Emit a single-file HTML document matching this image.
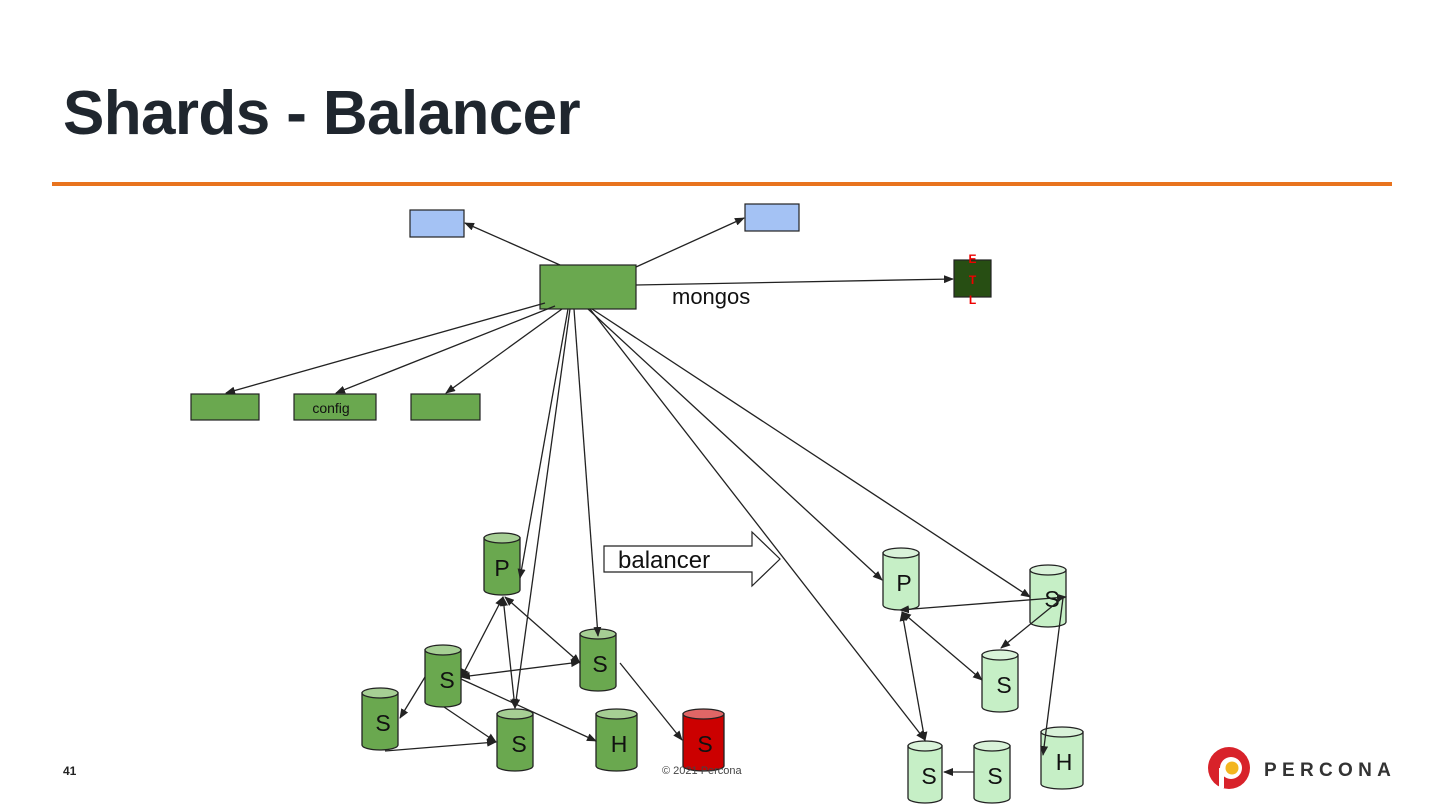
<!DOCTYPE html>
<html><head><meta charset="utf-8"><style>
body{margin:0;width:1440px;height:810px;background:#fff;overflow:hidden;font-family:"Liberation Sans",sans-serif}
</style></head><body>
<svg width="1440" height="810" xmlns="http://www.w3.org/2000/svg" style="position:absolute;left:0;top:0">
<defs>
<marker id="a" markerWidth="10" markerHeight="8" refX="9" refY="4" orient="auto-start-reverse" markerUnits="userSpaceOnUse"><path d="M0,0 L10,4 L0,8 Z" fill="#222"/></marker>
</defs>
<text x="63" y="134" font-size="62" font-weight="bold" fill="#1f262e" font-family="Liberation Sans,sans-serif" letter-spacing="-0.6">Shards - Balancer</text>
<rect x="52" y="182" width="1340" height="4" fill="#e8731e"/>

<rect x="410" y="210" width="54" height="27" fill="#a4c2f4" stroke="#222" stroke-width="1.2"/>
<rect x="745" y="204" width="54" height="27" fill="#a4c2f4" stroke="#222" stroke-width="1.2"/>
<rect x="540" y="265" width="96" height="44" fill="#6aa84f" stroke="#222" stroke-width="1.2"/>
<text x="672" y="304" font-size="22" fill="#111">mongos</text>
<rect x="954" y="260" width="37" height="37" fill="#274e13" stroke="#222" stroke-width="1.2"/>
<text x="972.5" y="263" font-size="12" font-weight="bold" fill="#e00" text-anchor="middle">E</text>
<text x="972.5" y="284" font-size="12" font-weight="bold" fill="#e00" text-anchor="middle">T</text>
<text x="972.5" y="304" font-size="12" font-weight="bold" fill="#e00" text-anchor="middle">L</text>
<rect x="191" y="394" width="68" height="26" fill="#6aa84f" stroke="#222" stroke-width="1.2"/>
<rect x="294" y="394" width="82" height="26" fill="#6aa84f" stroke="#222" stroke-width="1.2"/>
<text x="331" y="413" font-size="14" fill="#111" text-anchor="middle">config</text>
<rect x="411" y="394" width="69" height="26" fill="#6aa84f" stroke="#222" stroke-width="1.2"/>

<polygon points="604,546 752,546 752,532 780,559 752,586 752,572 604,572" fill="#fff" stroke="#222" stroke-width="1.2"/>
<text x="618" y="568" font-size="24" fill="#111">balancer</text>

<g stroke="#222" stroke-width="1.3" font-size="23" text-anchor="middle">
<g fill="#6aa84f"><path d="M484 538 v52 a18 5 0 0 0 36 0 v-52 z"/><ellipse cx="502" cy="538" rx="18" ry="5" fill="#a6cf94"/></g>
<text x="502" y="576" stroke="none" fill="#111">P</text>
<g fill="#6aa84f"><path d="M580 634 v52 a18 5 0 0 0 36 0 v-52 z"/><ellipse cx="598" cy="634" rx="18" ry="5" fill="#a6cf94"/></g>
<text x="600" y="672" stroke="none" fill="#111">S</text>
<g fill="#6aa84f"><path d="M425 650 v52 a18 5 0 0 0 36 0 v-52 z"/><ellipse cx="443" cy="650" rx="18" ry="5" fill="#a6cf94"/></g>
<text x="447" y="688" stroke="none" fill="#111">S</text>
<g fill="#6aa84f"><path d="M362 693 v52 a18 5 0 0 0 36 0 v-52 z"/><ellipse cx="380" cy="693" rx="18" ry="5" fill="#a6cf94"/></g>
<text x="383" y="731" stroke="none" fill="#111">S</text>
<g fill="#6aa84f"><path d="M497 714 v52 a18 5 0 0 0 36 0 v-52 z"/><ellipse cx="515" cy="714" rx="18" ry="5" fill="#a6cf94"/></g>
<text x="519" y="752" stroke="none" fill="#111">S</text>
<g fill="#6aa84f"><path d="M596 714 v52 a20.5 5 0 0 0 41 0 v-52 z"/><ellipse cx="616.5" cy="714" rx="20.5" ry="5" fill="#a6cf94"/></g>
<text x="619" y="752" stroke="none" fill="#111">H</text>
<g fill="#cc0000"><path d="M683 714 v52 a20.5 5 0 0 0 41 0 v-52 z"/><ellipse cx="703.5" cy="714" rx="20.5" ry="5" fill="#e06666"/></g>
<text x="705" y="752" stroke="none" fill="#111">S</text>
<g fill="#c6efc6"><path d="M883 553 v52 a18 5 0 0 0 36 0 v-52 z"/><ellipse cx="901" cy="553" rx="18" ry="5" fill="#d9f2d9"/></g>
<text x="904" y="591" stroke="none" fill="#111">P</text>
<g fill="#c6efc6"><path d="M1030 570 v52 a18 5 0 0 0 36 0 v-52 z"/><ellipse cx="1048" cy="570" rx="18" ry="5" fill="#d9f2d9"/></g>
<text x="1052" y="607" stroke="none" fill="#111">S</text>
<g fill="#c6efc6"><path d="M982 655 v52 a18 5 0 0 0 36 0 v-52 z"/><ellipse cx="1000" cy="655" rx="18" ry="5" fill="#d9f2d9"/></g>
<text x="1004" y="693" stroke="none" fill="#111">S</text>
<g fill="#c6efc6"><path d="M908 746 v52 a17 5 0 0 0 34 0 v-52 z"/><ellipse cx="925" cy="746" rx="17" ry="5" fill="#d9f2d9"/></g>
<text x="929" y="784" stroke="none" fill="#111">S</text>
<g fill="#c6efc6"><path d="M974 746 v52 a18 5 0 0 0 36 0 v-52 z"/><ellipse cx="992" cy="746" rx="18" ry="5" fill="#d9f2d9"/></g>
<text x="995" y="784" stroke="none" fill="#111">S</text>
<g fill="#c6efc6"><path d="M1041 732 v52 a21 5 0 0 0 42 0 v-52 z"/><ellipse cx="1062" cy="732" rx="21" ry="5" fill="#d9f2d9"/></g>
<text x="1064" y="770" stroke="none" fill="#111">H</text>
</g>

<g stroke="#222" stroke-width="1.3" fill="none" marker-end="url(#a)">
<line x1="560" y1="265" x2="465" y2="223"/>
<line x1="636" y1="267" x2="744" y2="218"/>
<line x1="636" y1="285" x2="953" y2="279"/>
<line x1="545" y1="303" x2="226" y2="393"/>
<line x1="555" y1="306" x2="336" y2="393"/>
<line x1="562" y1="309" x2="446" y2="393"/>
<line x1="568" y1="309" x2="520" y2="578"/>
<line x1="570" y1="309" x2="515" y2="708"/>
<line x1="574" y1="309" x2="598" y2="636"/>
<line x1="588" y1="309" x2="882" y2="580"/>
<line x1="592" y1="309" x2="1030" y2="597"/>
<line x1="590" y1="309" x2="925" y2="740"/>
<line x1="425" y1="677" x2="400" y2="718"/>
<line x1="444" y1="707" x2="496" y2="742"/>
<line x1="461" y1="679" x2="596" y2="741"/>
<line x1="385" y1="751" x2="496" y2="742"/>
<line x1="620" y1="663" x2="682" y2="740"/>
<line x1="1060" y1="600" x2="1001" y2="648"/>
<line x1="1063" y1="598" x2="1043" y2="755"/>
<line x1="974" y1="772" x2="944" y2="772"/>
</g>
<g stroke="#222" stroke-width="1.3" fill="none" marker-end="url(#a)" marker-start="url(#a)">
<line x1="503" y1="597" x2="461" y2="678"/>
<line x1="505" y1="597" x2="580" y2="663"/>
<line x1="503" y1="597" x2="515" y2="708"/>
<line x1="461" y1="677" x2="580" y2="662"/>
<line x1="1066" y1="597" x2="900" y2="610"/>
<line x1="902" y1="612" x2="982" y2="680"/>
<line x1="902" y1="612" x2="925" y2="741"/>
</g>

<text x="63" y="775" font-size="12" font-weight="bold" fill="#222">41</text>
<text x="662" y="774" font-size="11" fill="#444">© 2021 Percona</text>
<circle cx="1229" cy="768" r="21" fill="#d8222a"/>
<circle cx="1231" cy="768" r="11" fill="#fff"/>
<circle cx="1232" cy="768" r="6.5" fill="#f3b520"/>
<rect x="1219" y="768" width="5" height="20" fill="#fff"/>
<text x="1264" y="776" font-size="19" font-weight="bold" fill="#333" letter-spacing="5.3">PERCONA</text>
</svg>
</body></html>
